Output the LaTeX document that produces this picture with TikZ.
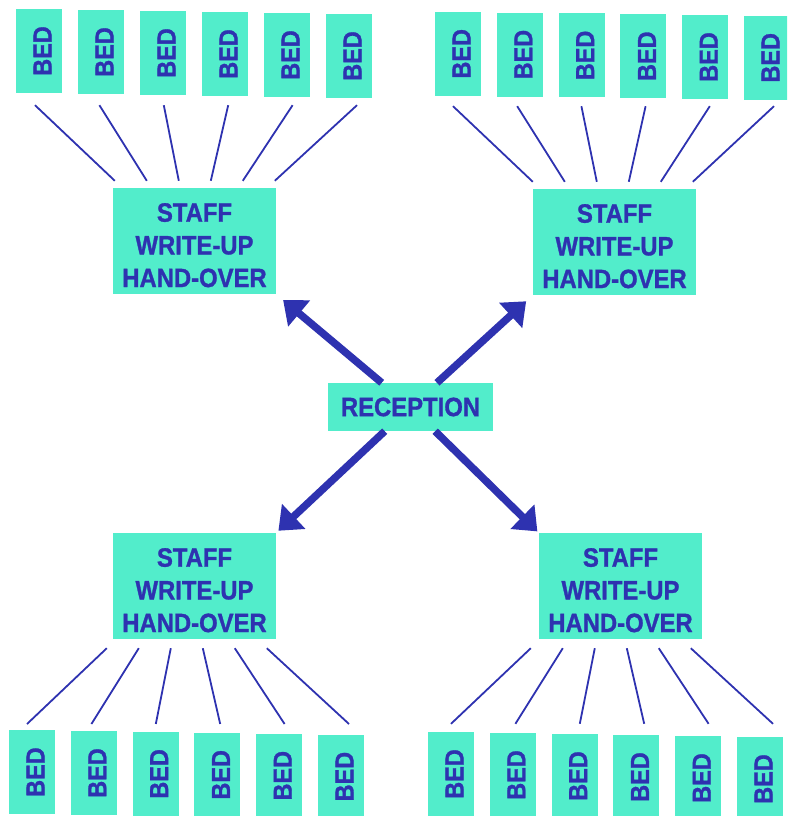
\documentclass[tikz,border=0pt]{standalone}
\usepackage{fontspec}
\setmainfont{Liberation Sans}[BoldFeatures={FakeBold=1.2}]
\usetikzlibrary{arrows.meta}

\definecolor{bedfill}{HTML}{52EDCB}
\definecolor{inkblue}{HTML}{2E32B0}

% narrow capitals, as in the sign boards
\newcommand{\cond}[1]{\scalebox{0.9}[1]{#1}}
\newcommand{\bedtext}{\rotatebox{90}{\rule{0pt}{25pt}\cond{BED}}}
\newcommand{\stafftext}{\rule{0pt}{27pt}\cond{STAFF}\\\cond{WRITE-UP}\\\cond{HAND-OVER}}

\tikzset{
  bed/.style={fill=bedfill, text=inkblue, inner sep=0pt,
    minimum width=46pt, minimum height=84pt,
    font=\bfseries\fontsize{26}{26}\selectfont},
  staff/.style={fill=bedfill, text=inkblue, inner sep=0pt, align=center,
    minimum width=163pt, minimum height=106pt,
    font=\bfseries\fontsize{26.5}{32.7}\selectfont},
  desk/.style={fill=bedfill, text=inkblue, inner sep=0pt,
    minimum width=165pt, minimum height=48pt,
    font=\bfseries\fontsize{26.5}{26.5}\selectfont},
  link/.style={color=inkblue, line width=1.8pt},
  bigarrow/.style={color=inkblue, line width=7.5pt,
    -{Triangle[length=21pt,width=33pt]}},
}

\begin{document}
\begin{tikzpicture}[x=1pt, y=-1pt]
      \clip (0,0) rectangle (787,816);

      % staff stations and reception
      \node[staff] (tl) at (194.5,241) {\stafftext};
      \node[staff] (tr) at (614.5,242) {\stafftext};
      \node[staff] (bl) at (194.5,586) {\stafftext};
      \node[staff] (br) at (620.5,586) {\stafftext};
      \node[desk] (rec) at (410.5,407) {\cond{RECEPTION}};

      \draw[bigarrow, shorten >=9pt] (rec) -- (tl.south east);
      \draw[bigarrow, shorten >=9pt] (rec) -- (tr.south west);
      \draw[bigarrow, shorten >=3pt] (rec) -- (bl.north east);
      \draw[bigarrow, shorten >=2pt] (rec) -- (br.north west);

      % beds
      \foreach \i in {1,...,6} {
        \node[bed] (tlb\i) at ({62*\i-23},{50+\i}) {\bedtext};
        \node[bed] (trb\i) at ({61.8*\i+396.2},{53+0.8*\i}) {\bedtext};
        \node[bed] (blb\i) at ({61.8*\i-29.8},{771.2+0.9*\i}) {\bedtext};
        \node[bed] (brb\i) at ({61.8*\i+389.2},{773+\i}) {\bedtext};
      }

      % bed links
      \foreach \i in {1,...,6} {
        \draw[link] ([xshift={2.4*\i-6.4}, yshift={\i-13}]tlb\i.south)
          -- ([xshift={32*\i-30}, yshift=7]tl.north west);
        \draw[link] ([xshift={2.4*\i-7.4}, yshift={0.8*\i-11}]trb\i.south)
          -- ([xshift={32*\i-32}, yshift=7]tr.north west);
        \draw[link] ([xshift={32*\i-38}, yshift=-9]bl.south west)
          -- ([xshift={2.6*\i-7.6}, yshift={5+0.9*\i}]blb\i.north);
        \draw[link] ([xshift={32*\i-40}, yshift=-9]br.south west)
          -- ([xshift={2.6*\i-2.6}, yshift={7+\i}]brb\i.north);
      }
\end{tikzpicture}
\end{document}
